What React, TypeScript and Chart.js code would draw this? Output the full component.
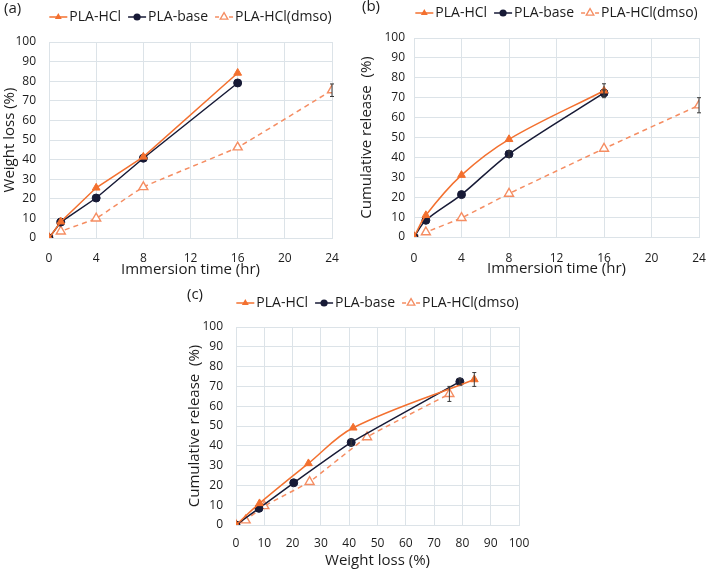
import React, { useEffect, useRef } from 'react';
import { Chart, registerables } from 'chart.js';
Chart.register(...registerables);

// ---------- data ----------
const timeMain = [0, 1, 4, 8, 16];
const timeDmso = [0, 1, 4, 8, 16, 24];

const lossHCl = [0, 8.3, 25.6, 41.4, 84.2];
const lossBase = [0, 8.1, 20.4, 40.7, 79.1];
const lossDmso = [0, 3.4, 10.0, 26.0, 46.3, 75.4];
const lossHClErr = [0, 0, 0, 0, 0];
const lossBaseErr = [0, 0, 0, 0, 0];
const lossDmsoErr = [0, 0, 0, 0, 0, 3.2];

const relHCl = [0, 10.9, 31.1, 49.1, 73.5];
const relBase = [0, 8.4, 21.3, 41.7, 72.4];
const relDmso = [0, 2.4, 9.6, 21.8, 44.4, 66.2];
const relHClErr = [0, 0, 0, 0, 3.5];
const relBaseErr = [0, 0, 0, 1.5, 1.5];
const relDmsoErr = [0, 0, 0, 0, 0, 3.8];

const seriesNames = ['PLA-HCl', 'PLA-base', 'PLA-HCl(dmso)'];
const panelLabels = ['(a)', '(b)', '(c)'];
const timeRange = [0, 24, 4];
const lossRange = [0, 100, 10];
const releaseRange = [0, 100, 10];

// ---------- styles ----------
const ORANGE = '#F3702F';
const ORANGE_L = '#F58D62';
const NAVY = '#171A36';
const GRID = '#DCE3E8';
const TEXT = '#1c1c1c';
const FONT = "'Open Sans', sans-serif";

type Kind = 'hcl' | 'base' | 'dmso';

function makeDataset(kind: Kind, xs: number[], ys: number[], errs: number[], tension: number) {
  const data = xs.map((x, i) => ({ x, y: ys[i] }));
  const base: any = {
    label: seriesNames[kind === 'hcl' ? 0 : kind === 'base' ? 1 : 2],
    data,
    errors: errs,
    tension,
    borderWidth: 1.5,
    fill: false,
  };
  if (kind === 'hcl') {
    Object.assign(base, {
      borderColor: ORANGE, backgroundColor: ORANGE,
      pointStyle: 'triangle', pointRadius: 4.5, pointBackgroundColor: ORANGE, pointBorderColor: ORANGE, pointBorderWidth: 1,
    });
  } else if (kind === 'base') {
    Object.assign(base, {
      borderColor: NAVY, backgroundColor: NAVY,
      pointStyle: 'circle', pointRadius: 4, pointBackgroundColor: NAVY, pointBorderColor: NAVY, pointBorderWidth: 1,
    });
  } else {
    Object.assign(base, {
      borderColor: ORANGE_L, backgroundColor: '#ffffff', borderDash: [5, 4],
      pointStyle: 'triangle', pointRadius: 5.2, pointBackgroundColor: '#ffffff', pointBorderColor: ORANGE_L, pointBorderWidth: 1.4,
    });
  }
  return base;
}

const errorBarPlugin = {
  id: 'errorBars',
  afterDatasetsDraw(chart: any) {
    const ctx = chart.ctx;
    const xs = chart.scales.x, ys = chart.scales.y;
    ctx.save();
    ctx.strokeStyle = '#3a3a3a';
    ctx.lineWidth = 1;
    ctx.setLineDash([]);
    chart.data.datasets.forEach((ds: any) => {
      const errs = ds.errors;
      if (!errs) return;
      ds.data.forEach((p: any, i: number) => {
        const e = errs[i];
        if (!e) return;
        const px = xs.getPixelForValue(p.x);
        const t = ys.getPixelForValue(p.y + e);
        const b = ys.getPixelForValue(p.y - e);
        ctx.beginPath();
        ctx.moveTo(px, t); ctx.lineTo(px, b);
        ctx.moveTo(px - 2, t); ctx.lineTo(px + 2, t);
        ctx.moveTo(px - 2, b); ctx.lineTo(px + 2, b);
        ctx.stroke();
      });
    });
    ctx.restore();
  },
};

function drawMarker(ctx: CanvasRenderingContext2D, kind: Kind, x: number, y: number) {
  ctx.save();
  ctx.setLineDash([]);
  if (kind === 'base') {
    ctx.fillStyle = NAVY;
    ctx.beginPath(); ctx.arc(x, y, 3.6, 0, Math.PI * 2); ctx.fill();
  } else {
    const r = kind === 'hcl' ? 4 : 4.4;
    ctx.beginPath();
    for (let k = 0; k < 3; k++) {
      const a = (k * 2 * Math.PI) / 3;
      const px = x + Math.sin(a) * r, py = y - Math.cos(a) * r;
      if (k === 0) ctx.moveTo(px, py); else ctx.lineTo(px, py);
    }
    ctx.closePath();
    if (kind === 'hcl') { ctx.fillStyle = ORANGE; ctx.fill(); }
    else { ctx.fillStyle = '#fff'; ctx.fill(); ctx.strokeStyle = ORANGE_L; ctx.lineWidth = 1.3; ctx.stroke(); }
  }
  ctx.restore();
}

function legendPlugin(legendY: number, label: string, labelX: number, labelY: number) {
  return {
    id: 'customLegend',
    afterDraw(chart: any) {
      const ctx: CanvasRenderingContext2D = chart.ctx;
      const kinds: Kind[] = ['hcl', 'base', 'dmso'];
      ctx.save();
      ctx.font = `14px ${FONT}`;
      ctx.textBaseline = 'middle';
      ctx.fillStyle = TEXT;
      const lineLen = 18, gapAfterLine = 2, gapItems = 7;
      const widths = seriesNames.map((n) => ctx.measureText(n).width);
      const total = widths.reduce((s, w) => s + w + lineLen + gapAfterLine, 0) + gapItems * (kinds.length - 1);
      const ca = chart.chartArea;
      let x = (ca.left + ca.right) / 2 - total / 2;
      kinds.forEach((k, i) => {
        ctx.save();
        ctx.strokeStyle = k === 'hcl' ? ORANGE : k === 'base' ? NAVY : ORANGE_L;
        ctx.lineWidth = 1.5;
        if (k === 'dmso') ctx.setLineDash([4, 3]); else ctx.setLineDash([]);
        ctx.beginPath(); ctx.moveTo(x, legendY); ctx.lineTo(x + lineLen, legendY); ctx.stroke();
        ctx.restore();
        drawMarker(ctx, k, x + lineLen / 2, legendY);
        ctx.fillStyle = TEXT;
        ctx.fillText(seriesNames[i], x + lineLen + gapAfterLine, legendY + 0.5);
        x += lineLen + gapAfterLine + widths[i] + gapItems;
      });
      ctx.font = `15px ${FONT}`;
      ctx.textAlign = 'left';
      ctx.fillText(label, labelX, labelY);
      ctx.restore();
    },
  };
}

interface PanelSpec {
  datasets: any[];
  xRange: number[];
  xTitle: string;
  yTitle: string;
  padTop: number; padRight: number;
  yWidth: number; xHeight: number;
  yTickPad: number; yTitlePad: number;
  xTickPad: number; xTitlePad: number;
  legendY: number; label: string; labelX: number; labelY: number;
}

function buildConfig(s: PanelSpec): any {
  return {
    type: 'line',
    data: { datasets: s.datasets },
    plugins: [errorBarPlugin, legendPlugin(s.legendY, s.label, s.labelX, s.labelY)],
    options: {
      animation: false,
      responsive: false,
      maintainAspectRatio: false,
      layout: { padding: { top: s.padTop, right: s.padRight, left: 0, bottom: 0 } },
      plugins: { legend: { display: false }, tooltip: { enabled: false } },
      scales: {
        x: {
          type: 'linear', min: s.xRange[0], max: s.xRange[1],
          ticks: { stepSize: s.xRange[2], color: TEXT, font: { family: FONT, size: 12 }, padding: s.xTickPad, maxRotation: 0 },
          grid: { color: GRID, drawTicks: false, lineWidth: 1 },
          border: { color: GRID },
          title: { display: true, text: s.xTitle, color: TEXT, font: { family: FONT, size: 15 }, padding: { top: 0, bottom: s.xTitlePad } },
          afterFit: (sc: any) => { sc.height = s.xHeight; sc.paddingLeft = 0; sc.paddingRight = 0; },
        },
        y: {
          type: 'linear', min: releaseRange[0], max: releaseRange[1],
          ticks: { stepSize: releaseRange[2], color: TEXT, font: { family: FONT, size: 12 }, padding: s.yTickPad },
          grid: { color: GRID, drawTicks: false, lineWidth: 1 },
          border: { color: GRID },
          title: { display: true, text: s.yTitle, color: TEXT, font: { family: FONT, size: 15 }, padding: { top: s.yTitlePad, bottom: 0 } },
          afterFit: (sc: any) => { sc.width = s.yWidth; sc.paddingTop = 0; sc.paddingBottom = 0; },
        },
      },
    },
  };
}

function Panel({ spec, left, top, width, height }: { spec: PanelSpec; left: number; top: number; width: number; height: number }) {
  const ref = useRef<HTMLCanvasElement | null>(null);
  useEffect(() => {
    if (!ref.current) return;
    const chart = new Chart(ref.current, buildConfig(spec));
    return () => chart.destroy();
  }, []);
  return (
    <div style={{ position: 'absolute', left, top, width, height }}>
      <canvas ref={ref} width={width} height={height} style={{ width, height, display: 'block' }} />
    </div>
  );
}

const specA: PanelSpec = {
  datasets: [
    makeDataset('hcl', timeMain, lossHCl, lossHClErr, 0),
    makeDataset('base', timeMain, lossBase, lossBaseErr, 0),
    makeDataset('dmso', timeDmso, lossDmso, lossDmsoErr, 0.1),
  ],
  xRange: timeRange, xTitle: 'Immersion time (hr)', yTitle: 'Weight loss (%)',
  padTop: 42, padRight: 23, yWidth: 49, xHeight: 42,
  yTickPad: 13, yTitlePad: 1, xTickPad: 13, xTitlePad: 1,
  legendY: 17, label: panelLabels[0], labelX: 4, labelY: 9,
};

const specB: PanelSpec = {
  datasets: [
    makeDataset('hcl', timeMain, relHCl, relHClErr, 0.35),
    makeDataset('base', timeMain, relBase, relBaseErr, 0.3),
    makeDataset('dmso', timeDmso, relDmso, relDmsoErr, 0.15),
  ],
  xRange: timeRange, xTitle: 'Immersion time (hr)', yTitle: 'Cumulative release  (%)',
  padTop: 38, padRight: 10, yWidth: 59, xHeight: 43,
  yTickPad: 9, yTitlePad: 3, xTickPad: 14, xTitlePad: 2,
  legendY: 13, label: panelLabels[1], labelX: 7, labelY: 7,
};

const specC: PanelSpec = {
  datasets: [
    makeDataset('hcl', lossHCl, relHCl, relHClErr, 0.35),
    makeDataset('base', lossBase, relBase, relBaseErr, 0.1),
    makeDataset('dmso', lossDmso, relDmso, relDmsoErr, 0.1),
  ],
  xRange: lossRange, xTitle: 'Weight loss (%)', yTitle: 'Cumulative release  (%)',
  padTop: 47, padRight: 11, yWidth: 66, xHeight: 45,
  yTickPad: 13, yTitlePad: 16, xTickPad: 11, xTitlePad: 0,
  legendY: 23, label: panelLabels[2], labelX: 17, labelY: 15,
};

export default function App() {
  return (
    <div style={{ position: 'relative', width: 709, height: 570 }}>
      <div style={{ position: 'fixed', left: 0, top: 0, width: 709, height: 570, background: '#fff' }}>
        <Panel spec={specA} left={0} top={0} width={355} height={280} />
        <Panel spec={specB} left={355} top={0} width={354} height={280} />
        <Panel spec={specC} left={170} top={280} width={360} height={290} />
      </div>
    </div>
  );
}
